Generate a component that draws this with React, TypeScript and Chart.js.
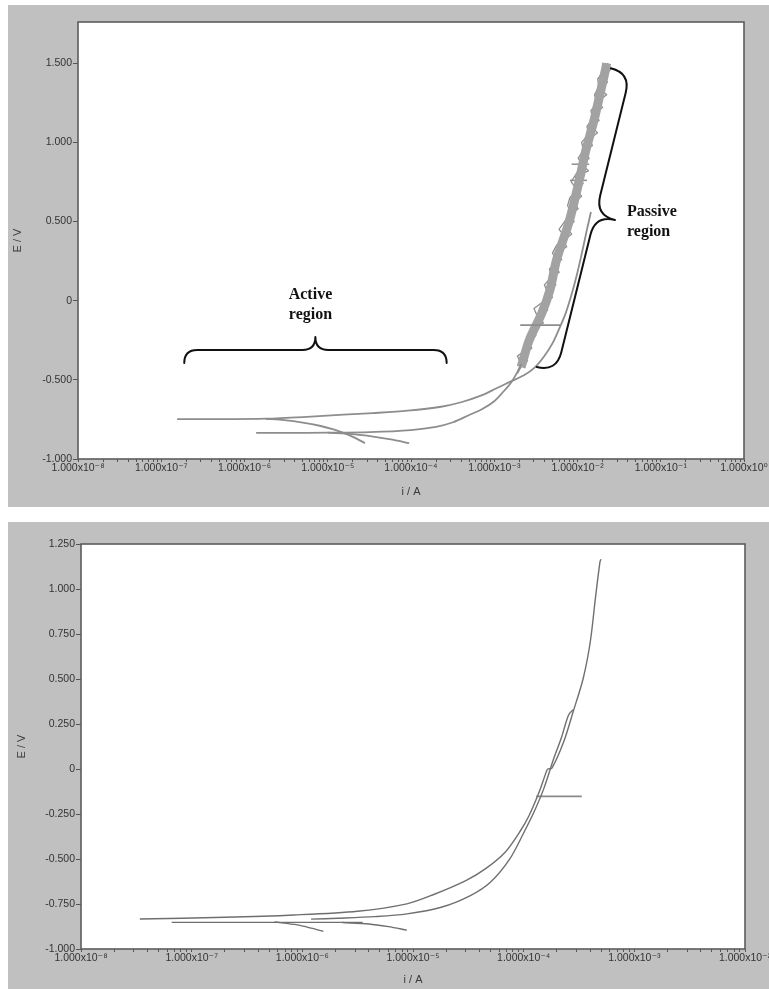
import React, { useEffect, useRef } from 'react';
import { Chart, registerables } from 'chart.js';

Chart.register(...registerables);

// ---------------- Top chart (i / A, E / V) ----------------
const topLowerI = [1.38e-6, 3.2e-6, 1e-5, 3.2e-5, 1e-4, 2e-4, 3.2e-4, 5e-4, 7.1e-4, 1e-3, 1.26e-3, 1.58e-3, 1.9e-3, 2.1e-3];
const topLowerE = [-0.835, -0.835, -0.834, -0.830, -0.817, -0.797, -0.768, -0.722, -0.686, -0.635, -0.58, -0.52, -0.45, -0.40];

// noisy passive band (forward and reverse sweeps) and its mean path
const topBandCoreI = [2.1e-3, 2.63e-3, 3.72e-3, 4.68e-3, 5.62e-3, 7.94e-3, 1.05e-2, 1.26e-2, 1.58e-2, 1.91e-2, 2.19e-2, 2.24e-2];
const topBandCoreE = [-0.42, -0.25, -0.08, 0.07, 0.26, 0.50, 0.76, 0.95, 1.14, 1.33, 1.47, 1.50];

const topForwardI = [2.1e-3, 1.9e-3, 2.57e-3, 2.45e-3, 2.7e-3, 3.1e-3, 3.3e-3, 3.0e-3, 4.0e-3, 4.4e-3, 4.0e-3, 4.9e-3, 4.6e-3, 5.8e-3, 5.0e-3, 5.6e-3, 7.2e-3, 6.0e-3, 7.0e-3, 8.6e-3, 7.6e-3, 8.1e-3, 9.9e-3, 8.4e-3, 9.6e-3, 1.16e-2, 1.02e-2, 1.18e-2, 1.12e-2, 1.36e-2, 1.30e-2, 1.52e-2, 1.45e-2, 1.72e-2, 1.60e-2, 1.80e-2, 1.75e-2, 2.05e-2, 2.2e-2];
const topForwardE = [-0.40, -0.35, -0.30, -0.25, -0.20, -0.15, -0.10, -0.05, 0.00, 0.05, 0.10, 0.15, 0.20, 0.25, 0.30, 0.35, 0.40, 0.45, 0.50, 0.55, 0.60, 0.65, 0.70, 0.75, 0.80, 0.85, 0.90, 0.95, 1.00, 1.05, 1.10, 1.15, 1.20, 1.25, 1.30, 1.35, 1.40, 1.45, 1.50];

const topReverseI = [2.29e-2, 2.51e-2, 2.0e-2, 2.29e-2, 1.86e-2, 2.24e-2, 1.78e-2, 2.0e-2, 1.55e-2, 1.82e-2, 1.48e-2, 1.74e-2, 1.38e-2, 1.51e-2, 1.20e-2, 1.38e-2, 1.12e-2, 1.35e-2, 9.33e-3, 1.17e-2, 9.55e-3, 1.12e-2, 9.12e-3, 1.02e-2, 7.94e-3, 9.12e-3, 7.41e-3, 8.51e-3, 6.76e-3, 7.41e-3, 5.75e-3, 6.46e-3, 5.25e-3, 6.03e-3, 4.79e-3, 5.5e-3, 4.57e-3, 5.01e-3, 3.8e-3, 4.37e-3, 3.47e-3, 3.89e-3, 2.95e-3, 3.16e-3, 2.57e-3, 2.82e-3, 2.24e-3, 2.51e-3, 2.09e-3, 1.9e-3];
const topReverseE = [1.50, 1.46, 1.42, 1.38, 1.34, 1.30, 1.26, 1.22, 1.18, 1.14, 1.10, 1.06, 1.02, 0.98, 0.94, 0.90, 0.86, 0.82, 0.78, 0.74, 0.70, 0.66, 0.62, 0.58, 0.54, 0.50, 0.46, 0.42, 0.38, 0.34, 0.30, 0.26, 0.22, 0.18, 0.14, 0.10, 0.06, 0.02, -0.02, -0.06, -0.10, -0.14, -0.18, -0.22, -0.26, -0.30, -0.34, -0.38, -0.42, -0.46];

// short horizontal noise spikes inside the band
const topNoiseSpike1I = [8.5e-3, 1.38e-2];
const topNoiseSpike1E = [0.862, 0.862];
const topNoiseSpike2I = [8.1e-3, 1.3e-2];
const topNoiseSpike2E = [0.76, 0.76];

const topReturnI = [1.45e-2, 1.3e-2, 1.15e-2, 1.0e-2, 8.5e-3, 7.2e-3, 6.0e-3, 5.0e-3, 4.0e-3, 3.1e-3, 2.3e-3, 1.58e-3, 1.05e-3, 6.9e-4, 4.1e-4, 2.3e-4, 9.1e-5, 3.5e-5, 1.55e-5, 5e-6, 1.8e-6, 5e-7, 1.55e-7];
const topReturnE = [0.56, 0.45, 0.32, 0.18, 0.04, -0.08, -0.18, -0.27, -0.35, -0.42, -0.47, -0.51, -0.555, -0.60, -0.64, -0.67, -0.695, -0.71, -0.72, -0.735, -0.745, -0.748, -0.748];

const topSpikeI = [2.05e-3, 6.2e-3];
const topSpikeE = [-0.154, -0.154];

const topCathodic1I = [1.8e-6, 3e-6, 5e-6, 8e-6, 1.2e-5, 1.6e-5, 2.1e-5, 2.8e-5];
const topCathodic1E = [-0.746, -0.755, -0.77, -0.79, -0.815, -0.838, -0.865, -0.90];
const topCathodic2I = [1e-5, 2e-5, 3.5e-5, 6e-5, 9.5e-5];
const topCathodic2E = [-0.834, -0.843, -0.858, -0.878, -0.90];

const topDecades = [-8, -7, -6, -5, -4, -3, -2, -1, 0];
const topYTicks = { min: -1, max: 1.76, step: 0.5 };

// ---------------- Bottom chart ----------------
const botUpperI = [3.4e-8, 2.0e-7, 8.4e-7, 3.16e-6, 8.8e-6, 1.5e-5, 3.0e-5, 4.5e-5, 6.8e-5, 9.2e-5, 1.12e-4, 1.38e-4, 1.6e-4, 1.65e-4, 1.8e-4, 2.3e-4, 2.8e-4, 3.45e-4, 4.0e-4, 4.45e-4, 4.9e-4, 5.0e-4];
const botUpperE = [-0.833, -0.824, -0.811, -0.79, -0.749, -0.70, -0.62, -0.555, -0.462, -0.350, -0.258, -0.128, -0.016, 0.0, 0.005, 0.151, 0.318, 0.503, 0.707, 0.949, 1.153, 1.165];

const botLowerI = [1.2e-6, 2.1e-6, 4.5e-6, 8.8e-6, 1.8e-5, 3.3e-5, 5.0e-5, 7.5e-5, 1.01e-4, 1.24e-4, 1.52e-4, 1.87e-4, 2.18e-4, 2.54e-4, 2.8e-4];
const botLowerE = [-0.834, -0.829, -0.82, -0.805, -0.768, -0.703, -0.629, -0.499, -0.350, -0.239, -0.109, 0.058, 0.169, 0.299, 0.33];

const botFlatI = [6.6e-8, 3.5e-6];
const botFlatE = [-0.852, -0.852];
const botCathodic1I = [5.6e-7, 9e-7, 1.2e-6, 1.55e-6];
const botCathodic1E = [-0.850, -0.866, -0.884, -0.902];
const botCathodic2I = [2.3e-6, 4e-6, 6e-6, 8.8e-6];
const botCathodic2E = [-0.853, -0.861, -0.876, -0.895];

const botSpikeI = [1.3e-4, 3.35e-4];
const botSpikeE = [-0.152, -0.152];

const botDecades = [-8, -7, -6, -5, -4, -3, -2];
const botYTicks = { min: -1, max: 1.25, step: 0.25 };

// ---------------- Annotations (data coordinates) ----------------
const activeBrace = { from: [1.89e-7, -0.394], to: [2.68e-4, -0.394], tip: [7.1e-6, -0.23] };
const passiveBrace = { from: [2.52e-2, 1.468], to: [3.24e-3, -0.419], tip: [2.82e-2, 0.509] };
const activeText = [
  { text: 'Active', at: [6.2e-6, 0.035] },
  { text: 'region', at: [6.2e-6, -0.09] },
];
const passiveText = [
  { text: 'Passive', at: [3.93e-2, 0.559] },
  { text: 'region', at: [3.93e-2, 0.433] },
];

// ---------------- helpers ----------------
const zip = (xs: number[], ys: number[]) => xs.map((x, i) => ({ x, y: ys[i] })).filter((p) => p.y !== undefined);

const SUP: Record<string, string> = { '-': '⁻', '0': '⁰', '1': '¹', '2': '²', '3': '³', '4': '⁴', '5': '⁵', '6': '⁶', '7': '⁷', '8': '⁸', '9': '⁹' };
function decadeLabel(v: number) {
  const l = Math.log10(v);
  const e = Math.round(l);
  if (Math.abs(l - e) > 1e-6) return '';
  return '1.000x10' + String(e).split('').map((c) => SUP[c]).join('');
}
function logTickValues(decades: number[]) {
  const out: number[] = [];
  decades.forEach((d, idx) => {
    const last = idx === decades.length - 1;
    const mult = last ? [1] : [1, 2, 3, 4, 5, 6, 7, 8, 9];
    mult.forEach((m) => out.push(m * Math.pow(10, d)));
  });
  return out;
}
const yLabel = (v: number) => (Math.abs(v) < 1e-9 ? '0' : v.toFixed(3));

const FONT = '"Liberation Sans", "DejaVu Sans", Arial, sans-serif';

function drawBrace(ctx: CanvasRenderingContext2D, A: { x: number; y: number }, B: { x: number; y: number }, T: { x: number; y: number }) {
  const dx = B.x - A.x, dy = B.y - A.y;
  const L = Math.hypot(dx, dy);
  const ux = dx / L, uy = dy / L;
  let nx = -uy, ny = ux;
  const tx = T.x - A.x, ty = T.y - A.y;
  if (tx * nx + ty * ny < 0) { nx = -nx; ny = -ny; }
  const d = tx * nx + ty * ny;
  const t = tx * ux + ty * uy;
  const q = d / 2;
  const Mx = A.x + ux * t, My = A.y + uy * t;
  ctx.beginPath();
  ctx.moveTo(A.x, A.y);
  ctx.quadraticCurveTo(A.x + nx * q, A.y + ny * q, A.x + nx * q + ux * q, A.y + ny * q + uy * q);
  ctx.lineTo(Mx + nx * q - ux * q, My + ny * q - uy * q);
  ctx.quadraticCurveTo(Mx + nx * q, My + ny * q, Mx + nx * d, My + ny * d);
  ctx.quadraticCurveTo(Mx + nx * q, My + ny * q, Mx + nx * q + ux * q, My + ny * q + uy * q);
  ctx.lineTo(B.x + nx * q - ux * q, B.y + ny * q - uy * q);
  ctx.quadraticCurveTo(B.x + nx * q, B.y + ny * q, B.x, B.y);
  ctx.stroke();
}

const frame = {
  id: 'frame',
  beforeDraw(chart: any) {
    const { ctx, chartArea: a } = chart;
    ctx.save();
    ctx.fillStyle = '#ffffff';
    ctx.fillRect(a.left, a.top, a.right - a.left, a.bottom - a.top);
    ctx.restore();
  },
  afterDatasetsDraw(chart: any) {
    const { ctx, chartArea: a } = chart;
    ctx.save();
    ctx.strokeStyle = '#5c5c5c';
    ctx.lineWidth = 1.6;
    ctx.strokeRect(a.left, a.top, a.right - a.left, a.bottom - a.top);
    ctx.restore();
  },
};

const topAnnotations = {
  id: 'topAnnotations',
  afterDraw(chart: any) {
    const { ctx } = chart;
    const x = chart.scales.x, y = chart.scales.y;
    const P = (p: number[]) => ({ x: x.getPixelForValue(p[0]), y: y.getPixelForValue(p[1]) });
    ctx.save();
    ctx.strokeStyle = '#111';
    ctx.lineWidth = 2;
    ctx.lineCap = 'round';
    ctx.lineJoin = 'round';
    drawBrace(ctx, P(activeBrace.from), P(activeBrace.to), P(activeBrace.tip));
    drawBrace(ctx, P(passiveBrace.from), P(passiveBrace.to), P(passiveBrace.tip));
    ctx.fillStyle = '#111';
    ctx.font = 'bold 16px "Liberation Serif", "Times New Roman", serif';
    ctx.textBaseline = 'middle';
    ctx.textAlign = 'center';
    activeText.forEach((t) => { const p = P(t.at); ctx.fillText(t.text, p.x, p.y); });
    ctx.textAlign = 'left';
    passiveText.forEach((t) => { const p = P(t.at); ctx.fillText(t.text, p.x, p.y); });
    ctx.restore();
  },
};

function line(data: { x: number; y: number }[], color: string, width: number, tension = 0) {
  return {
    data, showLine: true, borderColor: color, borderWidth: width, pointRadius: 0, fill: false,
    tension, borderCapStyle: 'butt', borderJoinStyle: 'round',
  };
}

function makeConfig(opts: {
  datasets: any[];
  decades: number[];
  yr: { min: number; max: number; step: number };
  padding: any;
  yWidth: number;
  xHeight: number;
  yTitlePad: number;
  xTitlePad: number;
  plugins: any[];
}) {
  const xTicks = logTickValues(opts.decades);
  return {
    type: 'scatter' as const,
    data: { datasets: opts.datasets },
    plugins: opts.plugins,
    options: {
      responsive: false,
      animation: false as const,
      devicePixelRatio: 1,
      events: [],
      layout: { padding: opts.padding },
      plugins: { legend: { display: false }, tooltip: { enabled: false } },
      scales: {
        x: {
          type: 'logarithmic' as const,
          min: Math.pow(10, opts.decades[0]),
          max: Math.pow(10, opts.decades[opts.decades.length - 1]),
          afterBuildTicks: (scale: any) => { scale.ticks = xTicks.map((value) => ({ value })); },
          afterFit: (scale: any) => { scale.height = opts.xHeight; scale.paddingLeft = 0; scale.paddingRight = 0; },
          border: { display: false },
          grid: { drawOnChartArea: false, drawTicks: true, tickLength: 3, color: '#555' },
          ticks: {
            autoSkip: false, maxRotation: 0, minRotation: 0, padding: 0,
            color: '#333', font: { family: FONT, size: 10.5 },
            callback: (v: any) => decadeLabel(Number(v)),
          },
          title: { display: true, text: 'i / A', color: '#3a3a3a', font: { family: FONT, size: 11 }, padding: { top: 0, bottom: opts.xTitlePad } },
        },
        y: {
          type: 'linear' as const,
          min: opts.yr.min,
          max: opts.yr.max,
          afterFit: (scale: any) => { scale.width = opts.yWidth; scale.paddingTop = 0; scale.paddingBottom = 0; },
          border: { display: false },
          grid: { drawOnChartArea: false, drawTicks: true, tickLength: 5, color: '#555' },
          ticks: {
            stepSize: opts.yr.step, includeBounds: false, padding: 1,
            color: '#333', font: { family: FONT, size: 10.5 },
            callback: (v: any) => yLabel(Number(v)),
          },
          title: { display: true, text: 'E / V', color: '#3a3a3a', font: { family: FONT, size: 11 }, padding: { top: opts.yTitlePad, bottom: 0 } },
        },
      },
    },
  };
}

const TOP_GREY = '#8d8d8d';
const BOT_GREY = '#6f6f6f';

function buildTop() {
  return makeConfig({
    datasets: [
      line(zip(topReturnI, topReturnE), TOP_GREY, 1.8, 0.3),
      line(zip(topLowerI, topLowerE), TOP_GREY, 1.8, 0.3),
      line(zip(topCathodic1I, topCathodic1E), TOP_GREY, 1.8, 0.3),
      line(zip(topCathodic2I, topCathodic2E), TOP_GREY, 1.8, 0.3),
      line(zip(topSpikeI, topSpikeE), TOP_GREY, 1.8),
      line(zip(topBandCoreI, topBandCoreE), '#a2a2a2', 9, 0.3),
      line(zip(topForwardI, topForwardE), '#8e8e8e', 1.3),
      line(zip(topReverseI, topReverseE), '#8e8e8e', 1.3),
      line(zip(topNoiseSpike1I, topNoiseSpike1E), '#8e8e8e', 1.5),
      line(zip(topNoiseSpike2I, topNoiseSpike2E), '#8e8e8e', 1.5),
    ],
    decades: topDecades,
    yr: topYTicks,
    padding: { left: 0, top: 17, right: 25, bottom: 3 },
    yWidth: 70,
    xHeight: 45,
    yTitlePad: 3,
    xTitlePad: 5,
    plugins: [frame, topAnnotations],
  });
}

function buildBottom() {
  return makeConfig({
    datasets: [
      line(zip(botUpperI, botUpperE), BOT_GREY, 1.4, 0.3),
      line(zip(botLowerI, botLowerE), BOT_GREY, 1.4, 0.3),
      line(zip(botFlatI, botFlatE), BOT_GREY, 1.4),
      line(zip(botCathodic1I, botCathodic1E), BOT_GREY, 1.4, 0.3),
      line(zip(botCathodic2I, botCathodic2E), BOT_GREY, 1.4, 0.3),
      line(zip(botSpikeI, botSpikeE), '#8a8a8a', 1.6),
    ],
    decades: botDecades,
    yr: botYTicks,
    padding: { left: 0, top: 22, right: 24, bottom: 0 },
    yWidth: 73,
    xHeight: 40,
    yTitlePad: 7,
    xTitlePad: 2,
    plugins: [frame],
  });
}

function ChartCanvas({ build, width, height }: { build: () => any; width: number; height: number }) {
  const ref = useRef<HTMLCanvasElement>(null);
  useEffect(() => {
    const chart = new Chart(ref.current as HTMLCanvasElement, build());
    return () => chart.destroy();
  }, []);
  return <canvas ref={ref} width={width} height={height} style={{ display: 'block', width, height }} />;
}

export default function App() {
  return (
    <div>
      <div style={{ position: 'absolute', left: 8, top: 5, width: 761, height: 502, background: '#c0c0c0', overflow: 'hidden' }}>
        <ChartCanvas build={buildTop} width={761} height={502} />
      </div>
      <div style={{ position: 'absolute', left: 8, top: 522, width: 761, height: 467, background: '#c0c0c0', overflow: 'hidden' }}>
        <ChartCanvas build={buildBottom} width={761} height={467} />
      </div>
    </div>
  );
}
